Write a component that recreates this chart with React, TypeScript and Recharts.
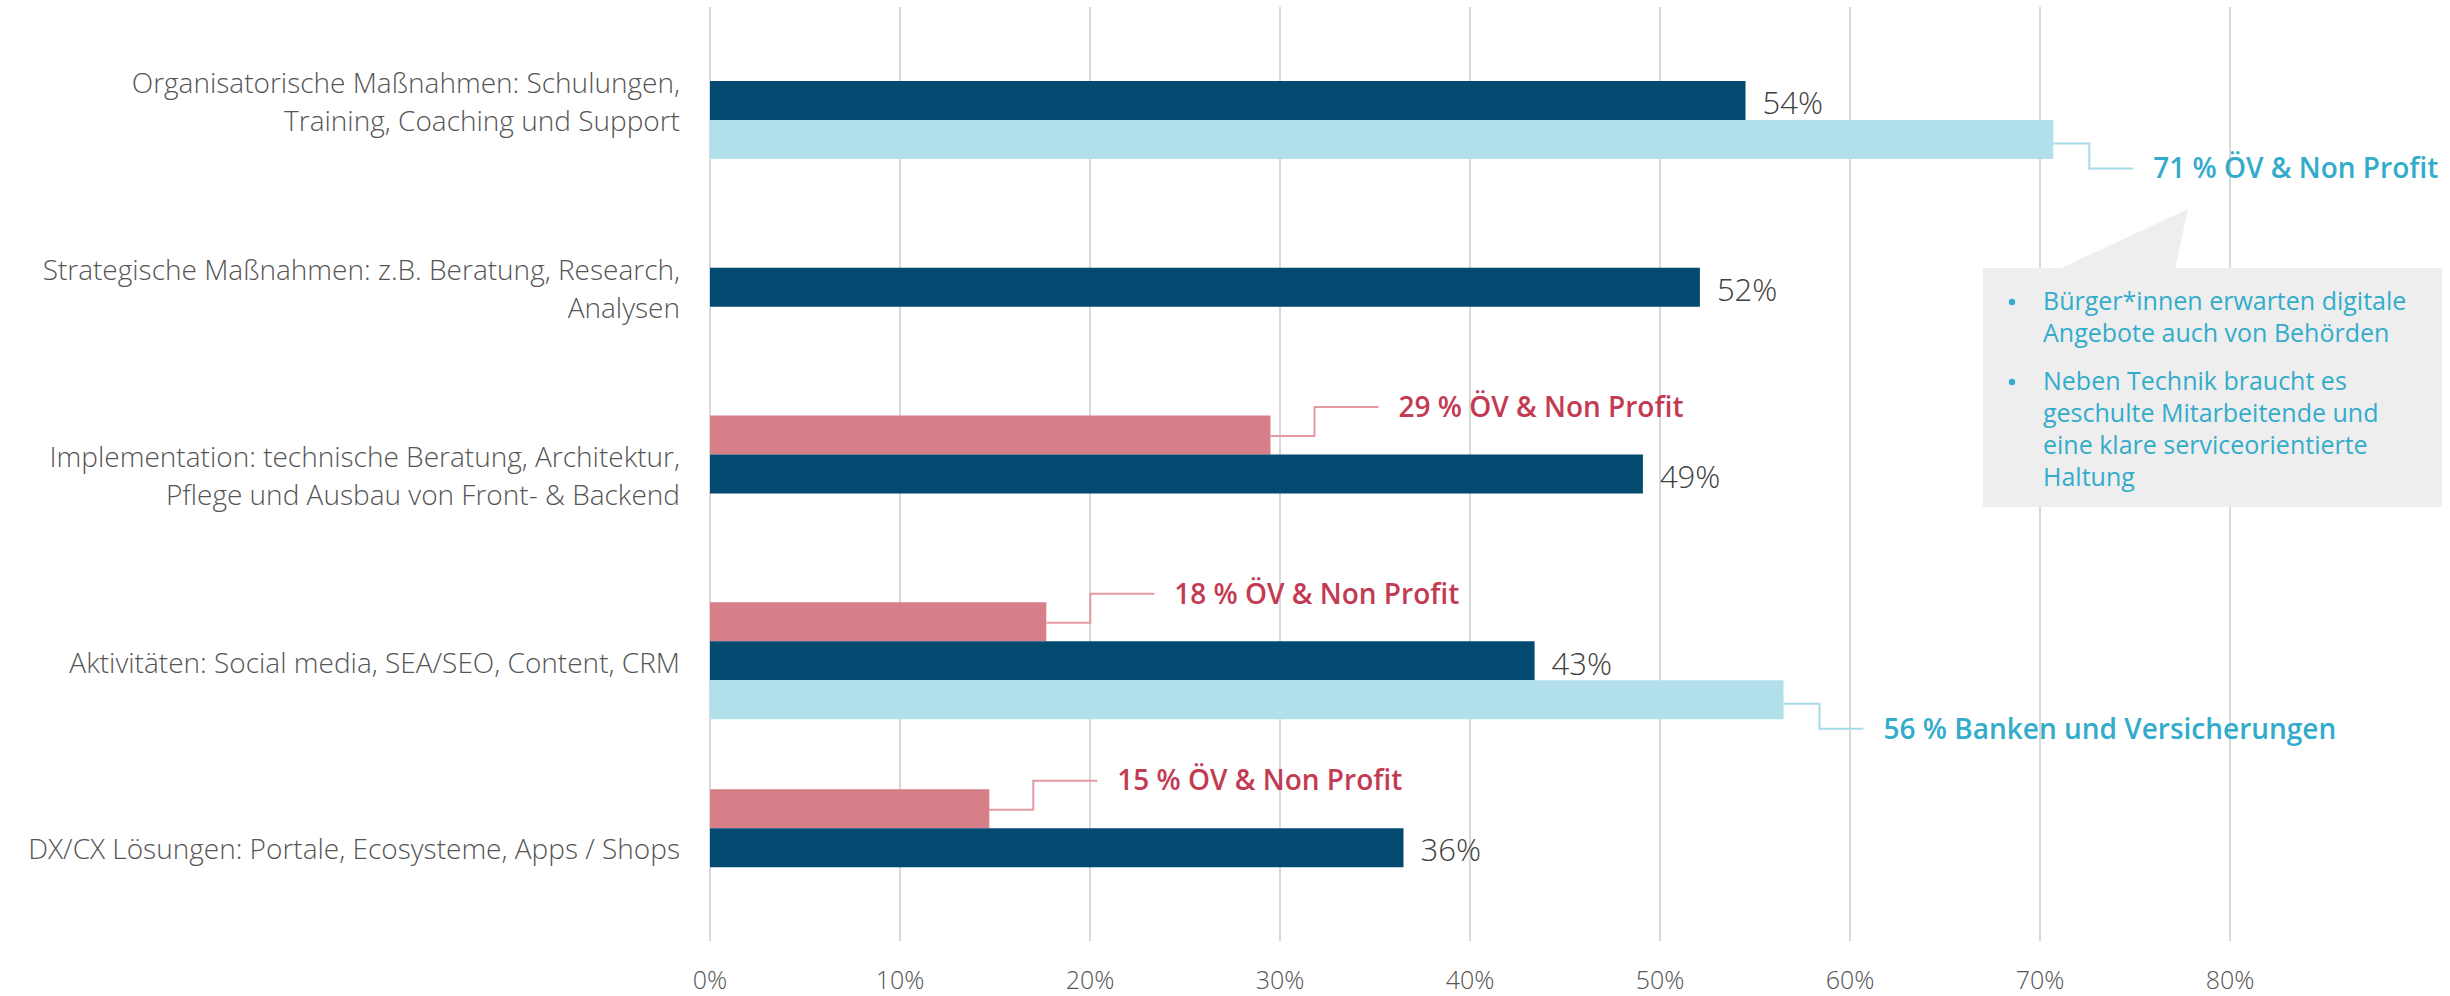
import React from "react";
import { BarChart, Bar, XAxis, YAxis, CartesianGrid, LabelList } from "recharts";

const categories = [
  "Organisatorische Maßnahmen: Schulungen,\nTraining, Coaching und Support",
  "Strategische Maßnahmen: z.B. Beratung, Research,\nAnalysen",
  "Implementation: technische Beratung, Architektur,\nPflege und Ausbau von Front- & Backend",
  "Aktivitäten: Social media, SEA/SEO, Content, CRM",
  "DX/CX Lösungen: Portale, Ecosysteme, Apps / Shops",
];
const lowValues: (number | null)[] = [null, null, 29.5, 17.7, 14.7];
const totalValues = [54.5, 52.1, 49.1, 43.4, 36.5];
const highValues: (number | null)[] = [70.7, null, null, 56.5, null];
const totalLabels = ["54%", "52%", "49%", "43%", "36%"];
const lowNotes: (string | null)[] = [null, null, "29 % ÖV & Non Profit", "18 % ÖV & Non Profit", "15 % ÖV & Non Profit"];
const highNotes: (string | null)[] = ["71 % ÖV & Non Profit", null, null, "56 % Banken und Versicherungen", null];
const xTicks = [0, 10, 20, 30, 40, 50, 60, 70, 80];
const calloutBullets = [
  ["Bürger*innen erwarten digitale", "Angebote auch von Behörden"],
  ["Neben Technik braucht es", "geschulte Mitarbeitende und", "eine klare serviceorientierte", "Haltung"],
];

const data = categories.map((name, i) => ({
  name,
  low: lowValues[i],
  total: totalValues[i],
  high: highValues[i],
  totalLabel: totalLabels[i],
  lowNote: lowNotes[i],
  highNote: highNotes[i],
}));

const FONT = "'Segoe UI', 'Open Sans', sans-serif";
const C_DARK = "#024A70";
const C_PINK = "#D67F88";
const C_LIGHT = "#B2E0EA";
const C_RED = "#C33B53";
const C_BLUE = "#33ACCB";
const C_TEXT = "#555555";

const YTick = (props: any) => {
  const { x, y, payload } = props;
  const lines = String(payload.value).split("\n");
  const lh = 38;
  const start = y + 2 - ((lines.length - 1) * lh) / 2;
  return (
    <text x={x - 30} y={start} textAnchor="end" fill={C_TEXT} fontSize={28} fontWeight={300} fontFamily={FONT}>
      {lines.map((l, i) => (
        <tspan key={i} x={x - 30} y={start + i * lh} dy="0.35em">
          {l}
        </tspan>
      ))}
    </text>
  );
};

const XTick = (props: any) => {
  const { x, y, payload } = props;
  return (
    <text x={x} y={y + 39} dy="0.35em" textAnchor="middle" fill={C_TEXT} fontSize={25} fontWeight={300} fontFamily={FONT}>
      {payload.value}%
    </text>
  );
};

const TotalLabel = (props: any) => {
  const { x, y, width, height, value } = props;
  if (value == null) return null;
  return (
    <text x={x + width + 17} y={y + height / 2 + 3} dy="0.35em" fill="#404040" fontSize={31} fontWeight={300} fontFamily={FONT}>
      {value}
    </text>
  );
};

const makeNote = (color: string, lineColor: string, rise: number, dx1: number, dx2: number, startOff: number) =>
  (props: any) => {
    const { x, y, width, height, value } = props;
    if (!value || width == null) return null;
    const x0 = x + width;
    const cy = y + height / 2 + startOff;
    const y2 = cy + rise;
    const x1 = x0 + dx1;
    const x2 = x1 + dx2;
    return (
      <g>
        <polyline points={`${x0},${cy} ${x1},${cy} ${x1},${y2} ${x2},${y2}`} fill="none" stroke={lineColor} strokeWidth={2} />
        <text x={x2 + 20} y={y2} dy="0.35em" fill={color} fontSize={28} fontWeight={600} fontFamily={FONT}>
          {value}
        </text>
      </g>
    );
  };

const LowNote = makeNote(C_RED, "#E39AA3", -29, 44, 64, 1);
const HighNote = makeNote(C_BLUE, "#A6DAE6", 25, 36, 44, 4);

export default function App() {
  return (
    <div style={{ position: "absolute", left: 0, top: 0, width: 2450, height: 996, background: "#fff" }}>
      <BarChart
        width={2450}
        height={996}
        data={data}
        layout="vertical"
        margin={{ top: 7, right: 220, bottom: 0, left: 0 }}
        barCategoryGap="18.7%"
        barGap={0}
      >
        <CartesianGrid horizontal={false} stroke="#D9D9D9" strokeWidth={2} />
        <XAxis
          type="number"
          domain={[0, 80]}
          ticks={xTicks}
          axisLine={false}
          tickLine={false}
          tickSize={0}
          tickMargin={0}
          height={55}
          tick={<XTick />}
          interval={0}
        />
        <YAxis
          type="category"
          dataKey="name"
          width={710}
          axisLine={false}
          tickLine={false}
          tickSize={0}
          tickMargin={0}
          tick={<YTick />}
          interval={0}
        />
        <Bar dataKey="low" fill={C_PINK} isAnimationActive={false}>
          <LabelList dataKey="lowNote" content={<LowNote />} />
        </Bar>
        <Bar dataKey="total" fill={C_DARK} isAnimationActive={false}>
          <LabelList dataKey="totalLabel" content={<TotalLabel />} />
        </Bar>
        <Bar dataKey="high" fill={C_LIGHT} isAnimationActive={false}>
          <LabelList dataKey="highNote" content={<HighNote />} />
        </Bar>
      </BarChart>
      <svg width={2450} height={996} style={{ position: "absolute", left: 0, top: 0, pointerEvents: "none" }}>
        <rect x={1983} y={268} width={459} height={239} fill="#EEEEEE" />
        <polygon points="2059,269 2188,209 2175,269" fill="#EEEEEE" />
        {(() => {
          const els: any[] = [];
          let yy = 310;
          calloutBullets.forEach((lines, bi) => {
            els.push(
              <circle key={`b${bi}`} cx={2012} cy={yy - 8} r={3.2} fill={C_BLUE} />
            );
            lines.forEach((l, li) => {
              els.push(
                <text key={`t${bi}-${li}`} x={2043} y={yy} fill={C_BLUE} fontSize={25} fontFamily={FONT}>
                  {l}
                </text>
              );
              yy += 32;
            });
            yy += 16;
          });
          return els;
        })()}
      </svg>
    </div>
  );
}
